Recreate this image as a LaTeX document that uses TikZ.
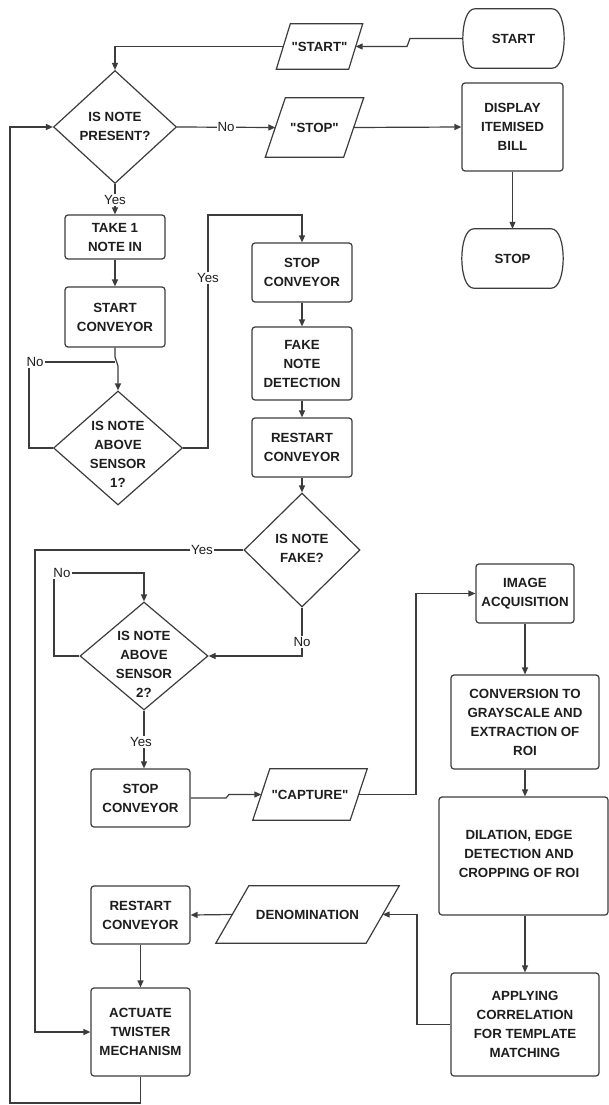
\documentclass[tikz,border=0pt]{standalone}
\usepackage{fontspec}
\setmainfont{Liberation Sans}[Ligatures=TeXOff]
\usetikzlibrary{shapes.geometric,arrows.meta}
\definecolor{ink}{HTML}{3C3C3C}
\definecolor{txt}{HTML}{1E1E1E}

% terminal (start/stop) with elliptic ends: name, x, y, text
\newcommand{\termbox}[4]{%
  \node[words,minimum width=101pt,minimum height=59pt] (#1) at (#2,#3) {#4};
  \draw[outline] ([xshift=12pt]#1.north west) -- ([xshift=-12pt]#1.north east)
    .. controls ([xshift=4pt]#1.north east) and ([xshift=4pt]#1.south east) .. ([xshift=-12pt]#1.south east)
    -- ([xshift=12pt]#1.south west)
    .. controls ([xshift=-4pt]#1.south west) and ([xshift=-4pt]#1.north west) .. ([xshift=12pt]#1.north west)
    -- cycle;
}
% input/output parallelogram: name, x, y, edge length, height, slant, text
\newcommand{\iobox}[7]{%
  \node[words,minimum width=#4pt,minimum height=#5pt] (#1) at (#2,#3) {#7};
  \draw[outline] ([xshift=0.5*#6pt]#1.north west) -- ([xshift=0.5*#6pt]#1.north east)
    -- ([xshift=-0.5*#6pt]#1.south east) -- ([xshift=-0.5*#6pt]#1.south west) -- cycle;
}

\begin{document}
\begin{tikzpicture}[x=1pt,y=-1pt,
  outline/.style={draw=ink,line width=1.2pt},
  words/.style={inner sep=0pt,align=center,text=txt,
    font=\fontsize{13.3}{19}\selectfont\bfseries},
  proc/.style={words,outline,rounded corners=3pt},
  dia/.style={outline,shape=diamond,inner sep=0pt},
  link/.style={draw=ink,line width=1.2pt},
  flow/.style={link,-{Triangle[length=7pt,width=6pt]}},
  lab/.style={fill=white,inner sep=1pt,text=txt,
    font=\fontsize{13.3}{16}\selectfont}]

\fill[white] (0,0) rectangle (609,1105);
\useasboundingbox (0,0) rectangle (609,1105);

% ---------- shapes ----------
\termbox{start}{513.5}{38.5}{START}
\iobox{pstart}{319.5}{46.5}{72}{45}{14}{"START"}
\node[dia,minimum width=123pt,minimum height=113pt] (d1) at (115,127) {};
\node[words] (d1t) at (115,126) {IS NOTE\\PRESENT?};
\iobox{pstop}{314.5}{127.5}{78}{59}{20}{"STOP"}
\node[proc,minimum width=101pt,minimum height=88pt] (display) at (512.5,127) {DISPLAY\\ITEMISED\\BILL};
\termbox{stopT}{512.5}{258.5}{STOP}

\node[proc,minimum width=100pt,minimum height=44pt] (take) at (115,237) {TAKE 1\\NOTE IN};
\node[proc,minimum width=100pt,minimum height=60pt] (startconv) at (115,317) {START\\CONVEYOR};
\node[dia,minimum width=129pt,minimum height=114pt] (d2) at (118,448) {};
\node[words] (d2t) at (118,454) {IS NOTE\\ABOVE\\SENSOR\\1?};

\node[proc,minimum width=100pt,minimum height=59pt] (stopone) at (302,272.5) {STOP\\CONVEYOR};
\node[proc,minimum width=100pt,minimum height=73pt] (fake) at (302,363.5) {FAKE\\NOTE\\DETECTION};
\node[proc,minimum width=100pt,minimum height=59pt] (restartone) at (302,447.5) {RESTART\\CONVEYOR};
\node[dia,minimum width=116pt,minimum height=114pt] (d3) at (302,550) {};
\node[words] (d3t) at (302,548) {IS NOTE\\FAKE?};

\node[dia,minimum width=128pt,minimum height=108pt] (d4) at (144,656) {};
\node[words] (d4t) at (144,664) {IS NOTE\\ABOVE\\SENSOR\\2?};
\node[proc,minimum width=99pt,minimum height=58pt] (stoptwo) at (140.5,798) {STOP\\CONVEYOR};
\iobox{pcapture}{310}{794.5}{97}{51}{17}{"CAPTURE"}

\node[proc,minimum width=98pt,minimum height=59pt] (acq) at (525,593.5) {IMAGE\\ACQUISITION};
\node[proc,minimum width=148pt,minimum height=94pt] (conv) at (525,722) {CONVERSION TO\\GRAYSCALE AND\\EXTRACTION OF\\ROI};
\node[outline,rounded corners=3pt,inner sep=0pt,minimum width=169pt,minimum height=118pt] (dil) at (523.5,856) {};
\node[words] (dilt) at (519,854) {DILATION, EDGE\\DETECTION AND\\CROPPING OF ROI};
\node[proc,minimum width=148pt,minimum height=103pt] (corr) at (525,1024.5) {APPLYING\\CORRELATION\\FOR TEMPLATE\\MATCHING};

\iobox{pden}{307.5}{914.5}{150}{57}{33}{DENOMINATION}
\node[proc,minimum width=99pt,minimum height=58pt] (restarttwo) at (140.5,915) {RESTART\\CONVEYOR};
\node[proc,minimum width=99pt,minimum height=88pt] (twister) at (140.5,1032) {ACTUATE\\TWISTER\\MECHANISM};

% ---------- connectors ----------
\draw[flow] (start.west) -- (410,38.5) -- (407,46.5) -- (pstart.east);
\draw[flow] (pstart.west) -| (d1.north);
\draw[flow] (d1.east) -- (pstop.west);
\draw[flow] (pstop.east) -- (display.west);
\draw[flow] (display.south) -- (stopT.north);
\draw[flow] (d1.south) -- (take.north);
\draw[flow] (take.south) -- (startconv.north);
\draw[flow] (startconv.south) -- (115,357) -- (118,366) -- (d2.north);
\coordinate (noonejoin) at (115,362);
\draw[link] (d2.west) -- (29,448) -- (29,362) -- (noonejoin);
\draw[flow] (d2.east) -- (208,448) -- (208,215) -| (stopone.north);
\draw[flow] (stopone.south) -- (fake.north);
\draw[flow] (fake.south) -- (restartone.north);
\draw[flow] (restartone.south) -- (d3.north);
\draw[flow] (d3.west) -- (35,550) |- (twister.west);
\draw[flow] (d3.south) |- (d4.east);
\draw[flow] (d4.west) -- (54,656) -- (54,573) -| (d4.north);
\draw[flow] (d4.south) -- (d4.south |- stoptwo.north);
\draw[flow] (stoptwo.east) -- (226,798) -- (229,794.5) -- (pcapture.west);
\draw[flow] (pcapture.east) -- (416,794.5) |- (acq.west);
\draw[flow] (acq.south) -- (acq.south |- conv.north);
\draw[flow] (conv.south) -- (conv.south |- dil.north);
\draw[flow] (conv.south |- dil.south) -- (corr.north);
\draw[flow] (corr.west) -- (417,1024.5) |- (pden.east);
\draw[flow] (pden.west) -- (restarttwo.east);
\draw[flow] (restarttwo.south) -- (twister.north);
\draw[flow] (twister.south) -- (140.5,1103) -- (10,1103) |- (d1.west);

% ---------- branch labels ----------
\node[lab] (l1) at (226,127) {No};
\node[lab] (l2) at (115,200) {Yes};
\node[lab] (l3) at (35,362) {No};
\node[lab] (l4) at (208,278) {Yes};
\node[lab] (l5) at (202,550) {Yes};
\node[lab] (l6) at (302,642) {No};
\node[lab] (l7) at (62,573) {No};
\node[lab] (l8) at (141,742) {Yes};
\end{tikzpicture}
\end{document}
